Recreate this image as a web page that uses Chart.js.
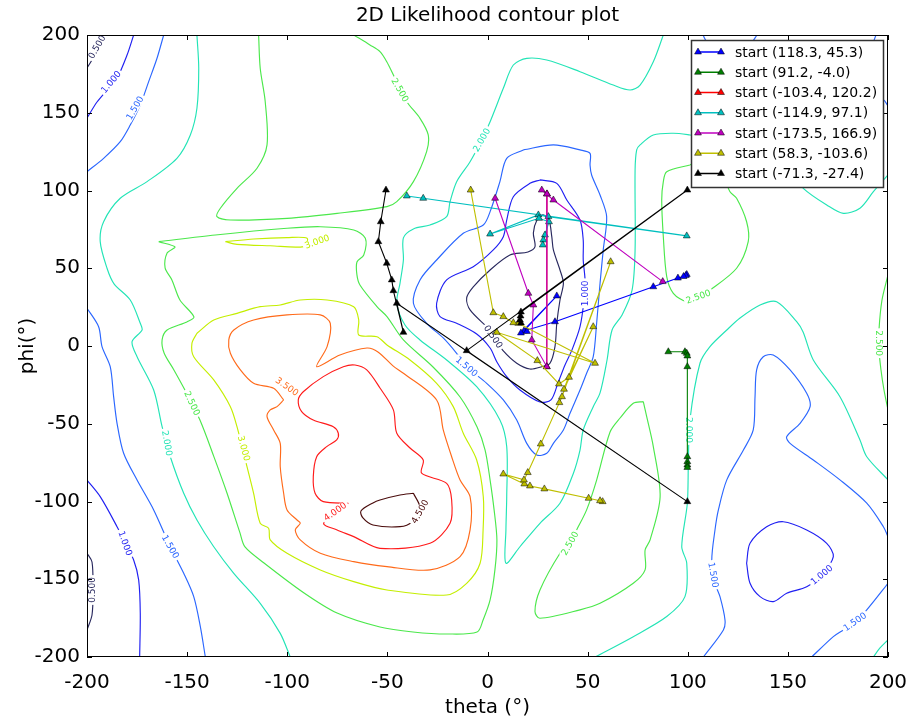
<!DOCTYPE html>
<html>
<head>
<meta charset="utf-8">
<title>2D Likelihood contour plot</title>
<script src="https://cdn.jsdelivr.net/npm/chart.js@4.4.1/dist/chart.umd.min.js"></script>
<style>
  html, body { margin: 0; padding: 0; background: #fff; }
  #box { width: 909px; height: 726px; position: relative; }
</style>
</head>
<body>
<div id="box"><canvas id="plot" width="909" height="726"></canvas></div>
<script>
// ---- axes ----
const thetaTicks = [-200, -150, -100, -50, 0, 50, 100, 150, 200];
const phiTicks = [-200, -150, -100, -50, 0, 50, 100, 150, 200];

// ---- contour levels ----
const levels = [0.5, 1.0, 1.5, 2.0, 2.5, 3.0, 3.5, 4.0, 4.5];
const levelColors = ['#28285e', '#1f1ff2', '#2a66ff', '#22e4b6', '#4be84b', '#c4ee00', '#ff6a1a', '#ff1a1a', '#4a0c0c'];

// ---- contour lines: [theta, phi] vertices ----
const lvl05_nw = [[-190,200],[-193.5,192.3],[-197.5,183.9],[-200,178.8]];
const lvl10_nw = [[-176.7,200],[-180,187.1],[-185,172.3],[-190,164.6],[-195,156.9],[-200,146.6]];
const lvl15_nw = [[-161.7,200],[-165,185.2],[-169.2,170],[-173.4,155],[-178.4,142.1],[-183.4,131.4],[-191.7,120.7],[-200,112.1]];
const lvl20_west = [[-145.1,200],[-144.2,178.6],[-145.1,152.9],[-148.4,135.7],[-155.1,120.7],[-170,105.7],[-183.4,95],[-191.7,79.9],[-193.4,67.1],[-190,50],[-186.5,40],[-178.4,29.6],[-173.4,14.6],[-172.5,10.3],[-177.5,2.8],[-175,-6.9],[-166.7,-28.3],[-162.5,-51.9],[-158.4,-71.2],[-151.7,-94.7],[-145.1,-111.9],[-136.7,-129.1],[-126.7,-146.2],[-113.5,-165.5],[-103.5,-184.8],[-98.5,-200]];
const lvl25_north = [[-114.3,200],[-113.5,178.6],[-111,157.1],[-110.1,129.3],[-115.1,114.3],[-125.1,101.4],[-133.4,88.6],[-135.1,83.2],[-128.4,81],[-100.1,82.1],[-75.1,85.3],[-50.2,89.6],[-45.3,92.8],[-37,105.7],[-30.4,125],[-29.6,135.7],[-33.7,146.4],[-40.3,157.1],[-46.2,172.2],[-50.3,182.8],[-53.7,189.3],[-58.7,193.6],[-66.8,200]];
const lvl25_centre = [[-164.2,67.1],[-135.9,71.4],[-100.1,75.7],[-83.5,76.7],[-66.8,74.6],[-61,69.3],[-61.8,58.5],[-65.2,54],[-65.2,45.7],[-63.7,39.2],[-55.2,25.3],[-50.2,18.9],[-42,3.9],[-27.2,-13.5],[-13.7,-32.8],[-5.2,-52.1],[-1.2,-66.9],[1.3,-86.2],[3.3,-105.4],[4.7,-124.7],[3.7,-144],[1.3,-163.3],[-2.2,-176.2],[-5.2,-183.9],[-20.2,-185.2],[-37.2,-183.9],[-53.7,-180.7],[-75.1,-171.7],[-91.6,-158.8],[-111.6,-139.5],[-121.1,-129.2],[-123.6,-120.2],[-130.1,-94.5],[-136.6,-71.3],[-143.6,-47.6],[-151.1,-28.3],[-156.6,-15.4],[-161.5,-4.5],[-162.5,3.9],[-160,10.3],[-150.1,15.5],[-146.6,18.7],[-153.6,29.6],[-157.6,42.5],[-161,50.2],[-160,59.8],[-156.1,63.7]];
const lvl30_small = [[-130.9,67.1],[-116.8,68.8],[-100.1,69.7],[-90.1,69.3],[-91.8,63.9],[-108.5,64.5],[-125.1,65.4]];
const lvl30_main = [[-145.1,8.2],[-136.7,16.7],[-125.1,21],[-113.5,25.3],[-103.5,26.4],[-93.5,29.6],[-80.1,29.6],[-66.8,25.3],[-64.3,16.7],[-64.3,7.1],[-55.2,6],[-50.2,0.7],[-38.7,-9],[-25.4,-24],[-17.1,-39],[-12.1,-56.1],[-5.4,-73.3],[-2.1,-96.9],[-2.2,-118.3],[-3.7,-139.7],[-10.4,-152.6],[-20.4,-160.1],[-50.2,-156.9],[-66.8,-151.5],[-83.5,-144],[-100.1,-133.3],[-108.5,-124.7],[-109.3,-117.2],[-113.5,-114],[-116.8,-94.7],[-120.1,-77.6],[-125.1,-51.9],[-128.4,-39],[-136.7,-21.8],[-146.7,-6.9],[-147.6,1.7]];
const lvl35 = [[-101.8,-34.7],[-105.1,-39],[-108.5,-41.1],[-110.1,-45.4],[-106.8,-54],[-103.5,-62.6],[-103.5,-77.6],[-101.8,-94.7],[-100.1,-105.4],[-95.1,-111.9],[-93.5,-114],[-96,-118.3],[-93.5,-124.7],[-83.5,-133.3],[-66.8,-138.7],[-50.2,-141.9],[-28.7,-144],[-13.7,-135.5],[-8.7,-118.3],[-8.7,-96.9],[-13.7,-86.2],[-17.9,-71.2],[-22.1,-54],[-25.4,-34.7],[-42,-17.5],[-47.2,-12.8],[-54.7,-3.8],[-60.2,-1.3],[-73.7,-5.8],[-85.3,-13.3],[-80.1,-0.4],[-78.5,14.6],[-83.5,20],[-100.1,20],[-116.8,16.7],[-126.7,10.3],[-129.2,3.9],[-128.4,-4.7],[-123.4,-15.4],[-116.8,-24],[-106.8,-27.2]];
const lvl40 = [[-69.5,-101.1],[-82,-100.1],[-86.1,-94.7],[-87,-84],[-85.3,-71.2],[-80.3,-64.7],[-75.3,-60.4],[-74.5,-56.1],[-77,-51.9],[-87,-47.6],[-92.8,-42.2],[-94.5,-34.7],[-92,-29.4],[-82,-19.7],[-72,-13.3],[-66.2,-12.2],[-60.3,-15.4],[-53.7,-27],[-47,-41.1],[-45.3,-56.1],[-38.7,-65.6],[-32.1,-73.3],[-32.9,-81.8],[-20.4,-88.3],[-17.9,-99],[-18.7,-114],[-28.7,-126.9],[-53.7,-130.1],[-66.8,-122.6],[-75.1,-118.3],[-81.8,-114]];
const lvl45 = [[-37,-94.7],[-43.7,-95.8],[-53.7,-99],[-57.2,-100.9],[-63.2,-106.1],[-62.2,-110.6],[-57.2,-115.1],[-43.7,-116.2],[-37.7,-113.1],[-33.7,-104.1]];
const lvl05_centre = [[-0.4,12.4],[-8.7,23.2],[-10.4,30.9],[-7.1,38],[1.3,48.9],[11.2,58.5],[20.2,60.5],[23.7,63.7],[22.9,72.7],[24.7,81],[27.7,84.3],[30.7,81],[32.1,70.3],[32.9,61.8],[36.2,48.9],[37.9,40.3],[36.2,29.6],[34.6,14.6],[33.7,-0.4],[31.2,-11.1],[27.1,-13.3],[21.2,-14.8],[14.6,-11.1],[7.9,-3.2],[4.3,3.9]];
const lvl10_centre = [[26.2,106.8],[34.6,104.6],[39.6,93.9],[46.2,81],[47.8,68.2],[47.8,55.3],[48.7,42.5],[48.2,29.6],[46.2,12.4],[42.2,-2.5],[38.7,-12.2],[35.2,-23.8],[31.7,-34.7],[26.2,-36],[16.2,-28.3],[9.7,-19.9],[4.7,-10.3],[1.3,-1.3],[-5.4,7.7],[-15.4,14.6],[-23.7,18.9],[-25.4,27.5],[-20.4,42.5],[-7.1,51],[2.9,61.8],[7.9,70.3],[9.6,81],[12.9,96],[21.2,104.6]];
const lvl15_centre = [[17.9,126.1],[32.9,129.3],[46.2,126.1],[51.2,123.9],[51.2,116.4],[52,110],[56.2,97.1],[59.5,83.2],[57.8,61.8],[56.2,40.3],[54.5,14.6],[52.8,-6.9],[49.5,-17.5],[46.2,-28.3],[41.2,-43.3],[37.9,-54],[32.9,-62.6],[29.6,-69],[24.6,-70.1],[19.6,-62.6],[14.6,-47.6],[7.9,-34.7],[-0.4,-24],[-10.4,-13.3],[-15.4,-4.7],[-22.1,5.2],[-30.4,14.6],[-37,27.5],[-33.7,42.5],[-25.4,55.3],[-12.1,72.5],[-2.1,77.8],[1.3,86.4],[6.2,105.7],[9.6,120.7]];
const lvl20_long = [[87.8,200],[82.8,182.8],[76.2,167.8],[71.2,164.6],[62.8,167.8],[46.2,176.4],[29.6,183.9],[19.6,185],[12.9,180.7],[7.9,165.7],[1.3,144.2],[-2.9,132.5],[-8.7,118.5],[-15.4,105.7],[-18.7,92.8],[-20.4,83.2],[-28.7,77.8],[-37,75.3],[-42,69.5],[-42,55.3],[-43.7,40.3],[-45.3,27.5],[-41.2,13.5],[-33.7,3.9],[-20.4,-9],[-5.4,-26.2],[6.2,-47.6],[9.6,-64.7],[9.6,-96.9],[9.2,-118.3],[9.2,-139.7],[16.2,-129.1],[26.2,-114],[36.2,-101.1],[42.9,-81.8],[46.2,-66.9],[47.8,-54],[52.8,-39],[56.2,-30.2],[59.7,-9],[62.2,10.3],[67.2,20],[72.2,36],[73.7,61.8],[73.7,113.2],[74.5,126.1],[76.2,129.3],[82.8,135.7],[92.8,136.8],[101.1,135.7],[136.1,129.3],[151.1,113.2],[157.7,101.4],[169.4,90.7],[177.7,85.3],[186,88.6],[192.7,99.2],[200,110]];
const lvl20_east = [[53.7,-200],[72.8,-186.9],[89.5,-174],[98.6,-161.2],[99.5,-139.7],[97,-129.1],[99.8,-101.1],[100.3,-75.4],[101.1,-47.6],[106.1,-11.1],[111.1,-0.4],[119.5,10.3],[126.1,18],[136.1,26.4],[144.4,28.5],[154.4,15.6],[157.6,9],[162.7,-9],[176,-32.6],[186,-60.4],[189.4,-71.2],[200,-86.1]];
const lvl20_se = [[192.7,-200],[196,-194.2],[200,-189]];
const lvl25_ne = [[101.1,116.4],[89.5,112.1],[87.8,105.7],[87,93.9],[87.8,70.3],[89.5,44.6],[92.8,33.9],[99.5,28.5],[105.3,31.7],[111.1,36],[124.4,50],[130.2,67.1],[129.4,79.9],[124.4,95],[121.1,99.2],[116.1,113.2],[106.1,119.6]];
const lvl25_east = [[77.8,-35.8],[72.8,-36.8],[66.2,-46.3],[61.2,-55.3],[54.5,-86.2],[49.5,-105.4],[44.5,-118.3],[41.2,-126.6],[36.2,-133.3],[26.2,-156.9],[23.7,-170.8],[26.2,-175.1],[46.2,-169.7],[56.2,-165.5],[72.8,-152.6],[78.7,-144],[78.7,-131.2],[81.2,-124.7],[86.2,-96.9],[82.8,-64.7],[79.5,-45.4]];
const lvl25_edge = [[200,45.7],[197,29.6],[195.5,10.3],[195.5,-2.5],[196.5,-15.4],[198,-28.3],[200,-41.1]];
const lvl10_sw = [[-200,-86.2],[-193.4,-96.9],[-185,-116.2],[-180.9,-126.9],[-176.7,-137.6],[-174.2,-150.4],[-173.4,-171.9],[-173.7,-200]];
const lvl15_sw = [[-200,24.3],[-194.2,12.4],[-192.5,-0.4],[-188.4,-13.3],[-186.7,-32.6],[-185,-49.7],[-181.7,-69],[-175,-86.2],[-166.7,-105.4],[-158.4,-129.1],[-151.7,-146.2],[-146.7,-161.2],[-143.4,-180.5],[-140.9,-200]];
const lvl05_sw = [[-200,-133.3],[-197.5,-138.9],[-197,-156.9],[-197.5,-173],[-200,-182.6]];
const lvl15_se = [[107.8,-200],[117.8,-182.6],[118.6,-176.2],[116.1,-161.2],[113.6,-152.6],[112,-137.6],[113.6,-118.3],[115.3,-105.4],[119.5,-86.1],[127.8,-66.9],[132.7,-54],[133.6,-32.6],[134.4,-15.4],[137.7,-6.9],[142.7,-5.8],[151.1,-15.4],[159.4,-30.4],[161.1,-39],[156.1,-49.7],[149.4,-58.3],[151.1,-62.6],[162.7,-73.3],[176,-86.1],[189.4,-101.1],[197.7,-116.2],[200,-122.6]];
const lvl15_corner = [[161.9,-200],[172.7,-186.9],[177.7,-182.6],[183.5,-177.3],[189.4,-169.7],[200,-152.6]];
const lvl10_se = [[129.4,-139.7],[131.1,-126.9],[139.4,-116.2],[147.7,-113],[159.4,-118.3],[169.4,-126.9],[172.7,-135.5],[166.9,-147.2],[159.4,-154.8],[149.4,-159],[142.7,-164.4],[136.1,-161.2],[131.1,-152.6]];
const lvl15_north = [[107.6,200],[110,195],[121,190],[131,194],[134.6,200]];
const lvl15_ne = [[194,200],[190,186],[186,172],[190,162],[197.7,158.4],[200,154.3]];

// [level index, vertices, closed]
const contourLines = [
  [0, lvl05_nw, false], [1, lvl10_nw, false], [2, lvl15_nw, false],
  [3, lvl20_west, false], [4, lvl25_north, false], [4, lvl25_centre, true],
  [5, lvl30_small, true], [5, lvl30_main, true], [6, lvl35, true],
  [7, lvl40, true], [8, lvl45, true],
  [0, lvl05_centre, true], [1, lvl10_centre, true], [2, lvl15_centre, true],
  [3, lvl20_long, false], [3, lvl20_east, false], [3, lvl20_se, false],
  [4, lvl25_ne, true], [4, lvl25_east, true], [4, lvl25_edge, false],
  [1, lvl10_sw, false], [2, lvl15_sw, false], [0, lvl05_sw, false],
  [2, lvl15_se, false], [2, lvl15_corner, false], [1, lvl10_se, true],
  [2, lvl15_north, false], [2, lvl15_ne, false]
];

// inline contour labels: [level index, theta, phi, rotation in degrees]
const contourLabels = [
  [0, -195.0, 192.3, -60], [1, -188.0, 169.8, -50], [2, -176.0, 153.1, -60],
  [4, -43.7, 164.6, 60], [3, -2.9, 132.5, -60], [5, -85.1, 67.1, -20],
  [4, -147.6, -36.8, 65], [3, -160.0, -62.5, 80], [5, -121.7, -65.8, 75],
  [6, -100.1, -26.1, 35], [7, -76.1, -106.5, -35], [8, -33.7, -106.5, -60],
  [1, -180.9, -126.9, 70], [2, -158.4, -129.1, 60], [0, -197.5, -156.9, -90],
  [0, 2.9, 6.0, 55], [1, 48.7, 33.9, -90], [2, -10.4, -13.3, 40],
  [4, 41.2, -126.9, -60], [4, 105.3, 31.7, -20], [3, 100.3, -54.0, 90],
  [2, 112.8, -147.2, 80], [1, 166.9, -147.2, -40], [2, 183.5, -177.3, -35],
  [4, 195.2, 1.8, 90]
];

// ---- optimisation trajectories ----
const seriesNames = ['start (118.3, 45.3)', 'start (91.2, -4.0)', 'start (-103.4, 120.2)', 'start (-114.9, 97.1)', 'start (-173.5, 166.9)', 'start (58.3, -103.6)', 'start (-71.3, -27.4)'];
const seriesColors = ['#0000ff', '#007f00', '#ff0000', '#00bfbf', '#bf00bf', '#bfbf00', '#000000'];
const trajBlue = [[99.5,46.0],[99.0,45.3],[97.9,44.7],[95.1,43.7],[82.8,38.1],[33.7,15.6],[18.2,9.7],[34.6,32.2],[16.7,8.4],[19.7,9.3]];
const trajGreen = [[90.3,-3.7],[98.6,-3.7],[99.5,-4.7],[99.8,-6.4],[99.8,-13.3],[99.8,-71.2],[99.8,-74.4],[99.8,-76.5],[99.8,-78.1]];
const trajRed = [[29.7,97.8],[29.6,-13.3]];
const trajCyan = [[-40.3,96.5],[-32.1,95.0],[99.5,70.8],[30.4,83.2],[25.4,84.3],[1.3,72.0],[25.7,82.1],[30.7,79.9],[28.7,71.4],[27.9,68.2],[27.6,65.0]];
const trajMagenta = [[87.5,41.4],[32.9,93.9],[27.1,100.3],[29.7,97.8],[29.6,-13.3],[22.1,3.9],[22.9,26.4],[20.4,33.9],[3.8,95.0]];
const trajYellow = [[57.5,-100.1],[56.2,-99.5],[50.5,-97.9],[28.4,-91.9],[21.2,-90.0],[18.4,-88.7],[7.9,-82.3],[18.2,-86.1],[20.1,-81.4],[26.6,-63.0],[35.9,-36.4],[37.2,-32.6],[61.5,54.2],[38.2,-27.8],[52.8,12.4],[40.7,-20.1],[35.7,-24.4],[24.9,-9.4],[4.6,8.8],[53.7,-11.1],[15.4,14.6],[12.9,15.0],[7.9,18.9],[2.9,21.4],[-8.4,100.3]];
const trajBlack = [[-50.7,100.3],[-53.3,79.9],[-54.5,67.1],[-50.3,53.2],[-47.8,42.5],[-47.0,35.6],[-42.0,8.8],[-45.3,27.5],[99.8,-100.1],[-10.4,-3.0],[99.8,100.3],[16.7,21.9],[16.5,19.3],[16.2,16.7],[16.7,14.8]];
const trajectories = [trajBlue, trajGreen, trajRed, trajCyan, trajMagenta, trajYellow, trajBlack];

// ---- build datasets ----
const toPoints = (arr, closed) => {
  const pts = arr.map(([x, y]) => ({ x, y }));
  if (closed) pts.push({ x: arr[0][0], y: arr[0][1] });
  return pts;
};

const datasets = [];
contourLines.forEach(([li, verts, closed]) => {
  datasets.push({
    data: toPoints(verts, closed),
    showLine: true,
    borderColor: levelColors[li],
    borderWidth: 1.15,
    tension: 0.3,
    pointRadius: 0,
    pointHoverRadius: 0,
    order: 100
  });
});
trajectories.forEach((tr, i) => {
  datasets.push({
    label: seriesNames[i],
    data: toPoints(tr, false),
    showLine: true,
    borderColor: seriesColors[i],
    borderWidth: 1.1,
    tension: 0,
    pointStyle: 'triangle',
    pointRadius: 4,
    pointBackgroundColor: seriesColors[i],
    pointBorderColor: '#000',
    pointBorderWidth: 0.5,
    order: 10 - i
  });
});

const FONT = '"DejaVu Sans", "Liberation Sans", sans-serif';

// contour labels sit on the lines, with a small gap cut around them
const contourLabelPlugin = {
  id: 'contourLabels',
  afterDatasetDraw(chart, args) {
    if (args.index !== 0) return;
    const { ctx, chartArea: a, scales: { x, y } } = chart;
    ctx.save();
    ctx.beginPath();
    ctx.rect(a.left, a.top, a.right - a.left, a.bottom - a.top);
    ctx.clip();
    ctx.font = '9px ' + FONT;
    ctx.textAlign = 'center';
    ctx.textBaseline = 'middle';
    contourLabels.forEach(([li, t, p, ang]) => {
      const txt = levels[li].toFixed(3);
      const w = ctx.measureText(txt).width;
      ctx.save();
      ctx.translate(x.getPixelForValue(t), y.getPixelForValue(p));
      ctx.rotate(ang * Math.PI / 180);
      ctx.fillStyle = '#fff';
      ctx.fillRect(-w / 2 - 2, -4, w + 4, 8);
      ctx.fillStyle = levelColors[li];
      ctx.fillText(txt, 0, 0.5);
      ctx.restore();
    });
    ctx.restore();
  }
};

// frame, inward ticks, titles and legend
const decorPlugin = {
  id: 'decor',
  afterDraw(chart) {
    const { ctx, chartArea: a, scales: { x, y } } = chart;
    ctx.save();
    ctx.strokeStyle = '#000';
    ctx.lineWidth = 1;
    ctx.strokeRect(a.left + 0.5, a.top + 0.5, a.right - a.left - 1, a.bottom - a.top - 1);
    ctx.beginPath();
    const tl = 5;
    thetaTicks.forEach(v => {
      const px = Math.round(x.getPixelForValue(v)) + 0.5;
      ctx.moveTo(px, a.bottom); ctx.lineTo(px, a.bottom - tl);
      ctx.moveTo(px, a.top); ctx.lineTo(px, a.top + tl);
    });
    phiTicks.forEach(v => {
      const py = Math.round(y.getPixelForValue(v)) + 0.5;
      ctx.moveTo(a.left, py); ctx.lineTo(a.left + tl, py);
      ctx.moveTo(a.right, py); ctx.lineTo(a.right - tl, py);
    });
    ctx.stroke();

    // titles
    ctx.fillStyle = '#000';
    ctx.font = '20px ' + FONT;
    ctx.textAlign = 'center';
    ctx.textBaseline = 'middle';
    const cx = (a.left + a.right) / 2;
    ctx.fillText('2D Likelihood contour plot', cx, 16);
    ctx.fillText('theta (\u00b0)', cx, 708);
    ctx.save();
    ctx.translate(28, (a.top + a.bottom) / 2);
    ctx.rotate(-Math.PI / 2);
    ctx.fillText('phi(\u00b0)', 0, 0);
    ctx.restore();

    // legend box
    const lx = 691, ly = 40, lw = 192, lh = 147;
    ctx.fillStyle = '#fff';
    ctx.fillRect(lx, ly, lw, lh);
    ctx.strokeStyle = '#333';
    ctx.lineWidth = 1.5;
    ctx.strokeRect(lx + 0.5, ly + 0.5, lw, lh);
    ctx.font = '14px ' + FONT;
    ctx.textAlign = 'left';
    ctx.textBaseline = 'middle';
    seriesNames.forEach((name, i) => {
      const ry = 52 + i * 20.25;
      ctx.strokeStyle = seriesColors[i];
      ctx.lineWidth = 1.5;
      ctx.beginPath();
      ctx.moveTo(698, ry); ctx.lineTo(721, ry);
      ctx.stroke();
      ctx.fillStyle = seriesColors[i];
      ctx.strokeStyle = '#000';
      ctx.lineWidth = 0.5;
      [698, 721].forEach(mx => {
        Chart.helpers.drawPoint(ctx, { pointStyle: 'triangle', radius: 4, borderWidth: 0.5 }, mx, ry);
      });
      ctx.fillStyle = '#000';
      ctx.fillText(name, 735, ry + 1);
    });
    ctx.restore();
  }
};

Chart.defaults.font.family = FONT;

new Chart(document.getElementById('plot'), {
  type: 'scatter',
  data: { datasets },
  options: {
    responsive: false,
    animation: false,
    devicePixelRatio: 1,
    events: [],
    layout: { padding: { left: 0, right: 21, top: 35, bottom: 0 } },
    plugins: { legend: { display: false }, tooltip: { enabled: false }, title: { display: false } },
    scales: {
      x: {
        type: 'linear', min: -200, max: 200,
        afterBuildTicks: s => { s.ticks = thetaTicks.map(v => ({ value: v })); },
        afterFit: s => { s.height = 69; s.paddingLeft = 0; s.paddingRight = 0; },
        grid: { display: false, drawTicks: false },
        border: { display: false },
        ticks: { color: '#000', font: { size: 20, family: FONT }, padding: 14, maxRotation: 0, autoSkip: false }
      },
      y: {
        type: 'linear', min: -200, max: 200,
        afterBuildTicks: s => { s.ticks = phiTicks.map(v => ({ value: v })); },
        afterFit: s => { s.width = 87; s.paddingTop = 0; s.paddingBottom = 0; },
        grid: { display: false, drawTicks: false },
        border: { display: false },
        ticks: { color: '#000', font: { size: 20, family: FONT }, padding: 7, autoSkip: false }
      }
    }
  },
  plugins: [contourLabelPlugin, decorPlugin]
});
</script>
</body>
</html>
